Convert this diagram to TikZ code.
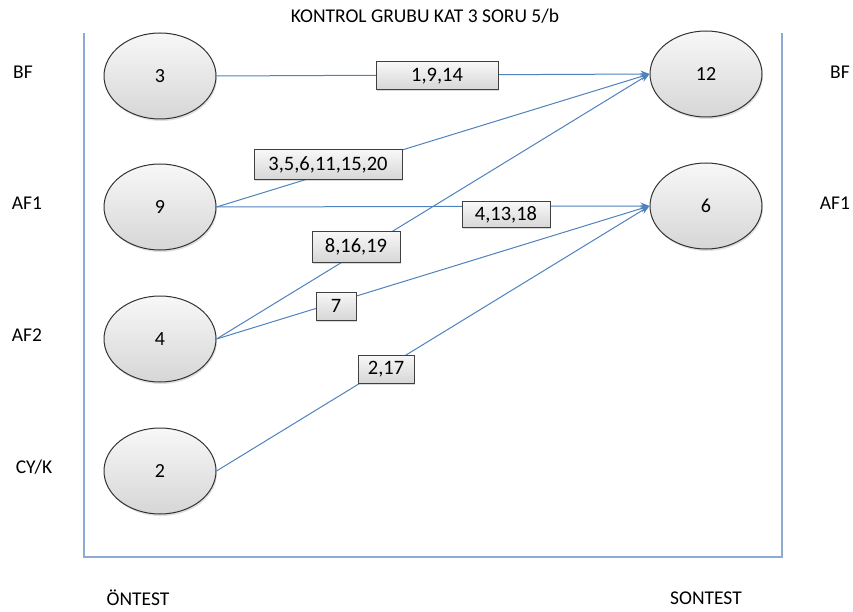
\documentclass[tikz,border=0pt]{standalone}
\usepackage{fontspec}
\setmainfont{Carlito}
\usetikzlibrary{arrows.meta,shadows,shapes.geometric}

\definecolor{linkblue}{RGB}{79,129,189}
\definecolor{framecol}{RGB}{140,170,210}

\tikzset{
  state/.style={ellipse, draw=black!80, line width=1pt,
    minimum width=112pt, minimum height=86pt,
    top color=gray!6, bottom color=gray!32,
    drop shadow={shadow xshift=1pt, shadow yshift=-2pt, opacity=0.25},
    font=\fontsize{20}{22}\selectfont},
  tag/.style={rectangle, draw=black!75, line width=1pt, inner sep=0pt,
    minimum height=28pt, top color=gray!6, bottom color=gray!32,
    drop shadow={shadow xshift=1.2pt, shadow yshift=-1.5pt, opacity=0.3},
    font=\fontsize{20.5}{22}\selectfont},
  side/.style={font=\fontsize{19.5}{21}\selectfont},
  link/.style={draw=linkblue, line width=1pt},
  linkarrow/.style={link, -{Stealth[length=9pt,width=7pt]}},
}

\begin{document}
\begin{tikzpicture}[x=1pt,y=-1pt]
  \useasboundingbox (0,0) rectangle (853,612);

  % open frame: left, bottom and right sides
  \draw[framecol, line width=1.2pt] (84,33) -- (84,557) -- (782,557) -- (782,33);

  % title and axis captions
  \node[side] (title) at (425,16) {KONTROL GRUBU KAT 3 SORU 5/b};
  \node[side] (pre) at (138,598) {ÖNTEST};
  \node[side] (post) at (706,598) {SONTEST};

  % category labels
  \node[side] (lbf)  at (23,72)  {BF};
  \node[side] (laf1) at (27,203) {AF1};
  \node[side] (laf2) at (27,335) {AF2};
  \node[side] (lcyk) at (34,467) {CY/K};
  \node[side] (rbf)  at (840,72)  {BF};
  \node[side] (raf1) at (835,203) {AF1};

  % pre-test states
  \node[state] (p3) at (160,76)  {3};
  \node[state] (p9) at (160,207) {9};
  \node[state] (p4) at (160,339) {4};
  \node[state] (p2) at (160,471) {2};
  % post-test states
  \node[state] (s12) at (706,74)  {12};
  \node[state] (s6)  at (706,206) {6};

  % transitions
  \draw[linkarrow] (p3.east) -- (s12.west);
  \draw[linkarrow] (p9.east) -- (s12.west);
  \draw[linkarrow] (p9.east) -- (s6.west);
  \draw[linkarrow] (p4.east) -- (s12.west);
  \draw[linkarrow] (p4.east) -- (s6.west);
  \draw[linkarrow] (p2.east) -- (s6.west);

  % item labels on the transitions
  \node[tag, minimum width=122pt] (t1) at (437,76)  {1,9,14};
  \node[tag, minimum width=148pt, minimum height=30pt] (t2) at (328,165) {3,5,6,11,15,20};
  \node[tag, minimum width=88pt, minimum height=26pt] (t3) at (506,215) {4,13,18};
  \node[tag, minimum width=88pt, minimum height=30pt] (t4) at (356,247) {8,16,19};
  \node[tag, minimum width=40pt] (t5) at (336,306) {7};
  \node[tag, minimum width=56pt] (t6) at (386,369) {2,17};
\end{tikzpicture}
\end{document}
